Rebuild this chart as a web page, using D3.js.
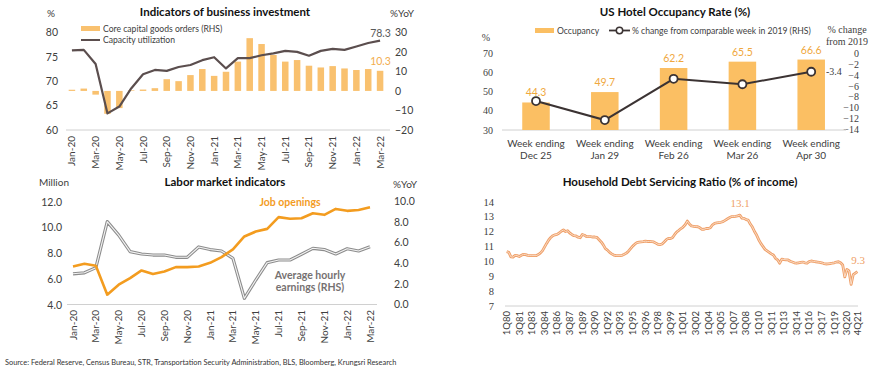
<!DOCTYPE html>
<html>
<head>
<meta charset="utf-8">
<script src="https://cdn.jsdelivr.net/npm/d3@7"></script>
<style>
  body { margin: 0; background: #fff; }
  #chart { font-family: Lato, "Open Sans", sans-serif; }
</style>
</head>
<body>
<svg id="chart" width="870" height="369"></svg>
<script>
// ---- data
const months = ["Jan-20","Feb-20","Mar-20","Apr-20","May-20","Jun-20","Jul-20","Aug-20","Sep-20","Oct-20","Nov-20","Dec-20",
  "Jan-21","Feb-21","Mar-21","Apr-21","May-21","Jun-21","Jul-21","Aug-21","Sep-21","Oct-21","Nov-21","Dec-21",
  "Jan-22","Feb-22","Mar-22"];
const monthTicks = ["Jan-20","Mar-20","May-20","Jul-20","Sep-20","Nov-20","Jan-21","Mar-21","May-21","Jul-21","Sep-21","Nov-21","Jan-22","Mar-22"];

const coreCapGoods = [0.6, 1.2, -1.9, -11.7, -8.8, 0.3, 0.7, 1.4, 6.0, 5.0, 8.1, 11.2, 7.7, 9.8, 15.0, 27.0, 24.0, 18.4,
  15.0, 15.8, 12.9, 12.0, 12.7, 11.5, 10.7, 11.2, 10.3];
const capacityUtil = [76.3, 76.4, 73.5, 63.4, 64.8, 68.5, 71.4, 72.3, 72.1, 72.9, 73.3, 74.3, 74.9, 72.6, 74.7, 74.7, 75.3,
  75.7, 76.2, 76.0, 75.2, 76.2, 76.6, 76.4, 77.1, 77.8, 78.3];

const hotelWeeks = ["Dec 25", "Jan 29", "Feb 26", "Mar 26", "Apr 30"];
const hotelOccupancy = [44.3, 49.7, 62.2, 65.5, 66.6];
const hotelChange2019 = [-8.8, -12.3, -4.7, -5.7, -3.4];

const jobOpenings = [6.97, 7.18, 7.02, 4.78, 5.55, 6.07, 6.66, 6.38, 6.58, 6.92, 6.92, 6.97, 7.25, 7.7, 8.3, 9.3, 9.68,
  9.89, 10.8, 10.67, 10.72, 11.1, 10.98, 11.44, 11.29, 11.36, 11.57];
const hourlyEarnings = [2.95, 3.05, 3.55, 8.0, 6.7, 5.1, 4.87, 4.77, 4.77, 4.55, 4.55, 5.55, 5.3, 5.16, 4.45, 0.58, 2.35,
  4.03, 4.29, 4.29, 4.84, 5.42, 5.3, 4.87, 5.38, 5.16, 5.58];

const dsrYears = d3.range(1980, 2022);
const dsrQuarters = dsrYears.flatMap(y => [1, 2, 3, 4].map(q => q + "Q" + String(y).slice(2)));
const dsrTicks = ["1Q80","3Q81","1Q83","3Q84","1Q86","3Q87","1Q89","3Q90","1Q92","3Q93","1Q95","3Q96","1Q98","3Q99",
  "1Q01","3Q02","1Q04","3Q05","1Q07","3Q08","1Q10","3Q11","1Q13","3Q14","1Q16","3Q17","1Q19","3Q20","4Q21"];
const dsrValues = [
  10.65, 10.6, 10.3, 10.28,   10.4, 10.38, 10.32, 10.4,   10.47, 10.45, 10.4, 10.38,   10.38, 10.38, 10.38, 10.45,
  10.55, 10.7, 10.95, 11.2,   11.43, 11.6, 11.72, 11.78,   11.81, 11.9, 12.02, 12.1,   12.0, 12.05, 11.9, 11.8,
  11.72, 11.7, 11.62, 11.58,  11.8, 11.75, 11.65, 11.65,
  11.65, 11.63, 11.63, 11.6,  11.45, 11.3, 11.1, 10.85,   10.75, 10.6, 10.5, 10.42,   10.38, 10.38, 10.38, 10.4,
  10.47, 10.55, 10.68, 10.85, 11.02, 11.15, 11.25, 11.28,  11.3, 11.32, 11.35, 11.33,   11.33, 11.32, 11.3, 11.22,
  11.14, 11.12, 11.16, 11.3,  11.45, 11.54, 11.52, 11.6,
  11.8, 11.98, 12.08, 12.2,   12.3, 12.45, 12.7, 12.5,    12.37, 12.35, 12.33, 12.32,  12.25, 12.14, 12.15, 12.2,
  12.2, 12.25, 12.45, 12.55,  12.58, 12.6, 12.62, 12.66,  12.75, 12.84, 12.92, 13.0,   13.0, 13.02, 13.05, 13.1,
  12.9, 12.88, 12.8, 12.77,   12.5, 12.3, 12.0, 11.76,
  11.45, 11.2, 11.0, 10.8,    10.7, 10.6, 10.5, 10.42,    10.2, 10.1, 9.87, 10.15,    10.12, 10.1, 10.09, 10.0,
  9.95, 9.9, 9.87, 9.9,       9.93, 9.95, 9.9, 9.87,      9.98, 10.02, 10.0, 9.97,    9.95, 9.93, 9.9, 9.85,
  9.82, 9.83, 9.85, 9.87,     9.9, 9.95, 9.97, 9.9,
  9.75, 8.95, 9.45, 9.35,     8.45, 9.1, 9.2, 9.3
];

const svg = d3.select('#chart');
const textCol = '#404040';
const serif = '"Liberation Serif", "DejaVu Serif", serif';

function yAxis(g, axis, x, size, fam) {
  g.attr('transform', `translate(${x},0)`).call(axis);
  g.select('.domain').remove();
  g.attr('font-size', size).attr('font-family', fam || null);
  g.selectAll('text').attr('fill', textCol);
  return g;
}

// rotated month / quarter labels, text ends at yTop
function xLabels(g, labels, xFn, yTop, size) {
  g.selectAll('text').data(labels).join('text')
    .attr('transform', d => `translate(${xFn(d)},${yTop}) rotate(-90)`)
    .attr('text-anchor', 'end')
    .attr('dy', '0.35em')
    .attr('font-size', size)
    .attr('fill', textCol)
    .text(d => d);
}

function title(x, y, t) {
  svg.append('text').attr('x', x).attr('y', y).attr('text-anchor', 'middle')
    .attr('font-size', 11.5).attr('font-weight', 'bold').attr('fill', '#111').text(t);
}

// ---- Indicators of business investment
{
  const g = svg.append('g');
  const x = d3.scaleBand().domain(months).range([66, 386]).paddingInner(0.45).paddingOuter(0.225);
  const yL = d3.scaleLinear().domain([60, 80]).range([130, 32.3]);
  const yR = d3.scaleLinear().domain([-20, 30]).range([130, 32.3]);

  title(225, 16, 'Indicators of business investment');
  g.append('text').attr('x', 51).attr('y', 17).attr('text-anchor', 'middle').attr('font-size', 10).attr('fill', textCol).text('%');
  g.append('text').attr('x', 390).attr('y', 17).attr('font-size', 10).attr('fill', textCol).text('%YoY');

  yAxis(g.append('g'), d3.axisLeft(yL).tickValues([60, 65, 70, 75, 80]).tickSize(0).tickPadding(0), 58, 10.5);
  yAxis(g.append('g'), d3.axisRight(yR).tickValues([-20, -10, 0, 10, 20, 30]).tickSize(0).tickPadding(0), 395, 10.5);

  g.append('line').attr('x1', 66).attr('x2', 390).attr('y1', 130).attr('y2', 130).attr('stroke', '#d0d0d0');

  g.append('g').selectAll('rect').data(coreCapGoods).join('rect')
    .attr('x', (d, i) => x(months[i]))
    .attr('width', x.bandwidth())
    .attr('y', d => yR(Math.max(0, d)))
    .attr('height', d => Math.abs(yR(d) - yR(0)))
    .attr('fill', '#f9c16f');

  const line = d3.line().x((d, i) => x(months[i]) + x.bandwidth() / 2).y(d => yL(d));
  g.append('path').datum(capacityUtil).attr('d', line).attr('fill', 'none')
    .attr('stroke', '#5b4e4e').attr('stroke-width', 2.2).attr('stroke-linejoin', 'round');

  g.append('text').attr('x', 380.5).attr('y', 36.5).attr('text-anchor', 'middle').attr('font-size', 10.5).attr('fill', '#595959').text('78.3');
  g.append('text').attr('x', 380.5).attr('y', 65).attr('text-anchor', 'middle').attr('font-size', 10.5).attr('fill', '#f2ad4e').text('10.3');

  // legend
  g.append('rect').attr('x', 81).attr('y', 26).attr('width', 19).attr('height', 5).attr('fill', '#f9c16f');
  g.append('text').attr('x', 103).attr('y', 32).attr('font-size', 8.6).attr('fill', textCol).text('Core capital goods orders (RHS)');
  g.append('line').attr('x1', 81).attr('x2', 100).attr('y1', 40).attr('y2', 40).attr('stroke', '#5b4e4e').attr('stroke-width', 2);
  g.append('text').attr('x', 103).attr('y', 43).attr('font-size', 8.6).attr('fill', textCol).text('Capacity utilization');

  xLabels(g.append('g'), monthTicks, d => x(d) + x.bandwidth() / 2, 136, 10);
}

// ---- US Hotel Occupancy Rate
{
  const g = svg.append('g');
  const x = d3.scaleBand().domain(hotelWeeks).range([501.6, 845.6]).paddingInner(0.6).paddingOuter(0.3);
  const yL = d3.scaleLinear().domain([30, 70]).range([130, 53]);
  const yR = d3.scaleLinear().domain([-14, 0]).range([129.3, 53.3]);
  const cx = d => x(d) + x.bandwidth() / 2;

  title(675, 16, 'US Hotel Occupancy Rate (%)');
  g.append('text').attr('x', 486).attr('y', 41).attr('text-anchor', 'middle').attr('font-size', 10).attr('font-family', serif).attr('fill', textCol).text('%');
  g.append('text').attr('x', 847).attr('y', 33).attr('text-anchor', 'middle').attr('font-size', 10).attr('font-family', serif).attr('fill', textCol).text('% change');
  g.append('text').attr('x', 847).attr('y', 45).attr('text-anchor', 'middle').attr('font-size', 10).attr('font-family', serif).attr('fill', textCol).text('from 2019');

  yAxis(g.append('g'), d3.axisLeft(yL).tickValues([30, 40, 50, 60, 70]).tickSize(0).tickPadding(0), 493, 10, serif);
  const right = yAxis(g.append('g'), d3.axisRight(yR).tickValues(d3.range(-14, 1, 2)).tickSize(0).tickPadding(0), 859, 10, serif);
  right.selectAll('text').attr('text-anchor', 'end').attr('x', 0);

  g.append('line').attr('x1', 502).attr('x2', 846).attr('y1', 130).attr('y2', 130).attr('stroke', '#d0d0d0');

  g.append('g').selectAll('rect').data(hotelOccupancy).join('rect')
    .attr('x', (d, i) => x(hotelWeeks[i]))
    .attr('width', x.bandwidth())
    .attr('y', d => yL(d))
    .attr('height', d => yL(30) - yL(d))
    .attr('fill', '#fbbf63');

  g.append('g').selectAll('text').data(hotelOccupancy).join('text')
    .attr('x', (d, i) => cx(hotelWeeks[i]))
    .attr('y', d => yL(d) - 6)
    .attr('text-anchor', 'middle').attr('font-size', 10.5).attr('fill', '#f0a83e')
    .text(d => d.toFixed(1));

  const line = d3.line().x((d, i) => cx(hotelWeeks[i])).y(d => yR(d));
  g.append('path').datum(hotelChange2019).attr('d', line).attr('fill', 'none')
    .attr('stroke', '#3b3333').attr('stroke-width', 2);
  g.append('g').selectAll('circle').data(hotelChange2019).join('circle')
    .attr('cx', (d, i) => cx(hotelWeeks[i])).attr('cy', d => yR(d)).attr('r', 4)
    .attr('fill', '#fff').attr('stroke', '#3b3333').attr('stroke-width', 1.8);
  g.append('text').attr('x', 826).attr('y', yR(-3.4) + 3.5).attr('font-size', 10).attr('font-family', serif)
    .attr('fill', textCol).text('-3.4');

  const cats = g.append('g');
  cats.selectAll('text.a').data(hotelWeeks).join('text').attr('class', 'a')
    .attr('x', cx).attr('y', 147).attr('text-anchor', 'middle').attr('font-size', 10).attr('fill', textCol).text('Week ending');
  cats.selectAll('text.b').data(hotelWeeks).join('text').attr('class', 'b')
    .attr('x', cx).attr('y', 159).attr('text-anchor', 'middle').attr('font-size', 10).attr('fill', textCol).text(d => d);

  // legend
  g.append('rect').attr('x', 535).attr('y', 28).attr('width', 19).attr('height', 5).attr('fill', '#fbbf63');
  g.append('text').attr('x', 557).attr('y', 33.5).attr('font-size', 8.6).attr('fill', textCol).text('Occupancy');
  g.append('line').attr('x1', 609).attr('x2', 630).attr('y1', 30.5).attr('y2', 30.5).attr('stroke', '#3b3333').attr('stroke-width', 1.8);
  g.append('circle').attr('cx', 619.5).attr('cy', 30.5).attr('r', 3.2).attr('fill', '#fff').attr('stroke', '#3b3333').attr('stroke-width', 1.5);
  g.append('text').attr('x', 632).attr('y', 33.5).attr('font-size', 8.6).attr('fill', textCol).text('% change from comparable week in 2019 (RHS)');
}

// ---- Labor market indicators
{
  const g = svg.append('g');
  const x = d3.scalePoint().domain(months).range([73, 370]);
  const yL = d3.scaleLinear().domain([4, 12]).range([304.7, 201.7]);
  const yR = d3.scaleLinear().domain([0, 10]).range([304.3, 201]);

  title(225, 186, 'Labor market indicators');
  g.append('text').attr('x', 54).attr('y', 186).attr('text-anchor', 'middle').attr('font-size', 10).attr('fill', textCol).text('Million');
  g.append('text').attr('x', 393).attr('y', 188).attr('font-size', 10).attr('fill', textCol).text('%YoY');

  yAxis(g.append('g'), d3.axisLeft(yL).tickValues([4, 6, 8, 10, 12]).tickFormat(d3.format('.1f')).tickSize(0).tickPadding(0), 62, 10.5);
  yAxis(g.append('g'), d3.axisRight(yR).tickValues([0, 2, 4, 6, 8, 10]).tickFormat(d3.format('.1f')).tickSize(0).tickPadding(0), 394, 10.5);

  g.append('line').attr('x1', 67).attr('x2', 377).attr('y1', 304.5).attr('y2', 304.5).attr('stroke', '#d0d0d0');

  const lineR = d3.line().x((d, i) => x(months[i])).y(d => yR(d));
  const lineL = d3.line().x((d, i) => x(months[i])).y(d => yL(d));
  g.append('path').datum(hourlyEarnings).attr('d', lineR).attr('fill', 'none')
    .attr('stroke', '#8c8c8c').attr('stroke-width', 3.2).attr('stroke-linejoin', 'round');
  g.append('path').datum(hourlyEarnings).attr('d', lineR).attr('fill', 'none')
    .attr('stroke', '#f4f4f4').attr('stroke-width', 1.1).attr('stroke-linejoin', 'round');
  g.append('path').datum(jobOpenings).attr('d', lineL).attr('fill', 'none')
    .attr('stroke', '#f39c1f').attr('stroke-width', 2.6).attr('stroke-linejoin', 'round');

  g.append('text').attr('x', 290).attr('y', 206).attr('text-anchor', 'middle').attr('font-size', 10.5)
    .attr('font-weight', 'bold').attr('fill', '#f39c1f').text('Job openings');
  g.append('text').attr('x', 310).attr('y', 279).attr('text-anchor', 'middle').attr('font-size', 10.5)
    .attr('font-weight', 'bold').attr('fill', '#767171').text('Average hourly');
  g.append('text').attr('x', 310).attr('y', 291).attr('text-anchor', 'middle').attr('font-size', 10.5)
    .attr('font-weight', 'bold').attr('fill', '#767171').text('earnings (RHS)');

  xLabels(g.append('g'), monthTicks, d => x(d), 310, 10);
}

// ---- Household Debt Servicing Ratio
{
  const g = svg.append('g');
  const x = d3.scalePoint().domain(dsrQuarters).range([506.7, 857.4]);
  const y = d3.scaleLinear().domain([7, 14]).range([306, 201.7]);

  title(680, 186, 'Household Debt Servicing Ratio (% of income)');

  yAxis(g.append('g'), d3.axisLeft(y).tickValues(d3.range(7, 15)).tickFormat(d3.format('d')).tickSize(0).tickPadding(0), 494, 10.5, serif);
  g.append('line').attr('x1', 505).attr('x2', 858).attr('y1', 306).attr('y2', 306).attr('stroke', '#d0d0d0');

  const line = d3.line().x((d, i) => x(dsrQuarters[i])).y(d => y(d));
  g.append('path').datum(dsrValues).attr('d', line).attr('fill', 'none')
    .attr('stroke', '#ef9f68').attr('stroke-width', 2.8).attr('stroke-linejoin', 'round');
  g.append('path').datum(dsrValues).attr('d', line).attr('fill', 'none')
    .attr('stroke', '#fbe2cf').attr('stroke-width', 0.9).attr('stroke-linejoin', 'round');

  g.append('text').attr('x', 740).attr('y', 207).attr('text-anchor', 'middle').attr('font-size', 11).attr('font-family', serif)
    .attr('fill', '#ef9f68').text('13.1');
  g.append('text').attr('x', 858).attr('y', 264).attr('text-anchor', 'middle').attr('font-size', 11).attr('font-family', serif)
    .attr('fill', '#ef9f68').text('9.3');

  xLabels(g.append('g'), dsrTicks, d => x(d), 311, 9.5);
}

svg.append('text').attr('x', 5).attr('y', 365).attr('font-size', 7.4).attr('fill', '#333')
  .text('Source: Federal Reserve, Census Bureau, STR, Transportation Security Administration, BLS, Bloomberg, Krungsri Research');
</script>
</body>
</html>
